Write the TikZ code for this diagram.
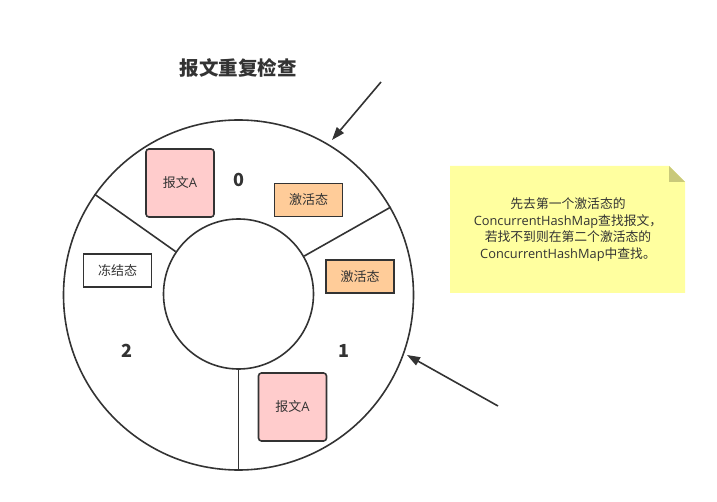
\documentclass[tikz,border=0pt]{standalone}
\usepackage{fontspec}
\setmainfont{Noto Sans CJK SC}
\newfontfamily\lat{Open Sans}
\usetikzlibrary{arrows.meta}
\definecolor{ln}{HTML}{333333}
\definecolor{pinkf}{HTML}{FFCCCC}
\definecolor{orangef}{HTML}{FFCC99}
\definecolor{notef}{HTML}{FFFF9F}
\definecolor{foldf}{HTML}{C9C97A}
\tikzset{
  edge/.style={draw=ln, line width=1.6pt},
  msgbox/.style={draw=ln, line width=1.6pt, fill=pinkf, rounded corners=3pt, minimum width=68pt, minimum height=68pt, inner sep=0pt, font=\fontsize{13}{15}\selectfont, text=ln},
  actbox/.style={draw=ln, line width=1.6pt, fill=orangef, minimum width=68pt, minimum height=33pt, inner sep=0pt, font=\fontsize{13}{15}\selectfont, text=ln},
  frzbox/.style={draw=ln, line width=1.6pt, fill=white, minimum width=68pt, minimum height=33pt, inner sep=0pt, font=\fontsize{13}{15}\selectfont, text=ln},
  numlbl/.style={font=\bfseries\fontsize{18}{21}\selectfont, text=ln},
  arr/.style={draw=ln, line width=1.6pt, -{Triangle[length=13pt, width=9pt]}}
}
\begin{document}
\begin{tikzpicture}[x=1pt, y=-1pt]
\useasboundingbox (0,0) rectangle (717,502);
% ring
\node[edge, circle, minimum size=350pt, inner sep=0pt] (outer) at (238.5,295) {};
\node[edge, circle, minimum size=150pt, inner sep=0pt, fill=white] (inner) at (238.5,294) {};
% spokes
\draw[edge] (outer.{145}) -- (inner.{146});
\draw[edge] (outer.{30}) -- (inner.{30});
\draw[edge] (inner.south) -- (outer.south);
% title
\node[font=\bfseries\fontsize{19.5}{23}\selectfont, text=ln] (title) at (238,68) {报文重复检查};
% labels
\node[numlbl] (n0) at (239,180) {0};
\node[numlbl] (n1) at (344,351) {1};
\node[numlbl] (n2) at (127,351) {2};
% boxes
\node[msgbox] (m0) at (180,183) {报文{\lat A}};
\node[msgbox] (m1) at (292.5,407) {报文{\lat A}};
\node[actbox] (a0) at (308.5,200) {激活态};
\node[actbox] (a1) at (360,276.5) {激活态};
\node[frzbox] (f2) at (117.5,270.5) {冻结态};
% arrows
\coordinate (s0) at (381,82);
\coordinate (t0) at (332,140);
\draw[arr] (s0) -- (t0);
\coordinate (s1) at (498,406);
\coordinate (t1) at (407,355);
\draw[arr] (s1) -- (t1);
% note
\fill[notef] (450,166) -- (669,166) -- (685,182) -- (685,293) -- (450,293) -- cycle;
\fill[foldf] (669,166) -- (669,182) -- (685,182) -- cycle;
\node[font=\fontsize{12.8}{16.5}\selectfont, text=ln, align=center] (note) at (568,229.5) {先去第一个激活态的\\{\lat ConcurrentHashMap}查找报文，\\若找不到则在第二个激活态的\\{\lat ConcurrentHashMap}中查找。};
\end{tikzpicture}
\end{document}
